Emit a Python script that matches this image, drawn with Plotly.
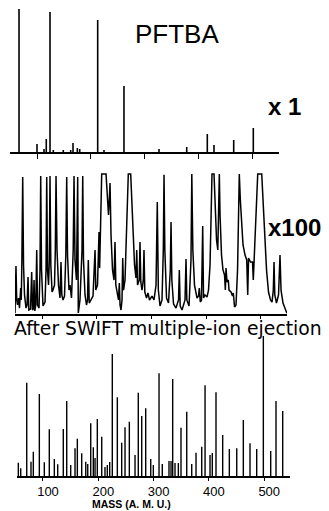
import plotly.graph_objects as go

# The page body adds an 8 px margin; the figure is sized to fill the rest of the window.
PAGE_W, PAGE_H, OFF = 329, 511, 8
W, H = PAGE_W - OFF, PAGE_H - OFF

# ---------------- data ----------------
tick_vals = [100, 200, 300, 400, 500]
tick_text = ["100", "200", "300", "400", "500"]

# Top panel (x 1): PFTBA mass spectrum, relative intensity
top_mass = [66.7, 100, 113, 117.2, 124.1, 130.2, 148.7, 162.4, 166.7, 174.7, 179.1,
            212.4, 224.1, 261.1, 326.0, 377.3, 415.4, 427.8, 464.3, 500.6]
top_int = [100, 5.6, 2.1, 9.1, 97.9, 1.4, 1.4, 1.4, 6.3, 2.8, 2.1,
           92.3, 1.4, 46.2, 2.1, 3.5, 12.6, 4.9, 8.4, 16.8]

# Middle panel (x 100): traced spectrum, clipped at full scale
mid_mass = [50.6, 51.5, 52.4, 53.7, 55.2, 57.0, 58.8, 61.0, 62.1, 63.2, 64.7, 66.2, 68.0, 70.7,
            72.6, 74.4, 75.8, 79.0, 81.1, 82.6, 84.1, 85.4, 86.8, 88.6, 90.3, 91.8, 94.5, 96.3,
            97.6, 99.1, 101.8, 105.5, 107.3, 108.6, 110.0, 111.9, 113.3, 114.6, 116.1, 118.3,
            120.1, 122.8, 124.3, 125.6, 127.4, 130.1, 132.9, 134.7, 136.2, 138.4, 141.1, 143.5,
            145.1, 146.6, 149.3, 151.2, 153.9, 157.0, 158.5, 160.3, 163.0, 165.2, 166.3, 169.4,
            173.1, 174.4, 175.8, 178.6, 181.3, 183.2, 184.6, 186.3, 189.5, 193.2, 196.9, 198.3,
            201.4, 204.2, 205.3, 206.9, 209.1, 217.0, 219.3, 221.5, 223.0, 224.3, 226.1, 228.9,
            231.6, 233.4, 234.9, 238.0, 239.8, 241.3, 242.6, 244.4, 246.2, 247.5, 249.0, 251.7,
            254.1, 255.9, 257.7, 262.1, 263.9, 266.3, 269.1, 271.8, 273.1, 274.6, 277.7, 279.1,
            280.6, 282.8, 285.1, 286.4, 287.9, 291.0, 293.7, 296.5, 301.1, 304.7, 308.4, 310.7,
            312.6, 315.7, 319.3, 321.7, 323.0, 324.5, 327.6, 331.2, 334.5, 335.8, 337.3, 340.4,
            344.9, 349.5, 351.0, 352.6, 355.9, 361.4, 363.2, 364.7, 368.7, 372.3, 373.8, 375.7,
            378.7, 383.3, 386.1, 387.5, 389.3, 391.5, 393.7, 395.2, 397.9, 401.6, 404.3, 407.1,
            408.9, 410.7, 414.4, 416.2, 419.0, 421.3, 423.0, 424.1, 425.4, 428.1, 430.8, 433.6,
            435.1, 436.3, 438.2, 440.5, 441.8, 445.5, 448.2, 449.7, 451.9, 454.6, 457.4, 459.2,
            460.6, 462.5, 464.7, 467.4, 471.1, 474.2, 476.0, 477.5, 481.1, 484.8, 486.2, 487.9,
            490.3, 492.4, 494.3, 501.6, 504.0, 506.7, 510.4, 514.0, 517.7, 520.4, 522.8, 524.1,
            525.5, 528.6, 532.3, 535.0, 536.9, 540.5, 544.2, 547.8]
mid_int = [0, 9.7, 34.1, 9.7, 6.1, 11.1, 3.9, 18.3, 9.7, 38.4, 97.9, 34.8, 13.3, 3.9,
           6.1, 26.2, 2.5, 3.2, 29.8, 2.5, 3.2, 24, 1.8, 6.1, 45.5, 6.1, 3.9, 31.2,
           98.6, 31.2, 5.4, 8.2, 31.2, 97.9, 31.2, 20.4, 38.4, 98.6, 34.8, 15.4,
           16.8, 20.4, 45.5, 98.6, 45.5, 20.4, 11.1, 36.9, 13.3, 9.7, 12.5, 41.9,
           97.9, 41.9, 16.8, 20.4, 11.1, 45.5, 98.6, 38.4, 24, 97.9, 0.4, 9.7,
           45.5, 98.6, 38.4, 13.3, 6.1, 9.7, 38.4, 7.5, 9.7, 12.5, 45.5, 16.8,
           20.4, 58.4, 32.6, 59.9, 100, 100, 81.4, 70.6, 81.4, 93.6, 56.3, 31.2,
           24, 51.3, 20.4, 13.3, 9.7, 21.9, 6.1, 2.5, 9.7, 39.8, 16.8, 24,
           52.7, 81.4, 100, 100, 81.4, 52.7, 34.8, 25.5, 45.5, 20.4, 24, 51.3,
           22.6, 16.8, 24, 45.5, 15.4, 11.1, 14.7, 9.7, 12.5, 9.7, 20.4, 80,
           16.8, 5.4, 9.7, 45.5, 99.5, 45.5, 11.1, 7.5, 31.2, 65.6, 24, 6.8,
           3.9, 9.7, 31.2, 5.4, 2.5, 9.7, 39.1, 9.7, 5.4, 38.4, 100, 45.5,
           20.4, 11.1, 12.5, 18.3, 8.2, 9.7, 62.7, 11.1, 13.3, 11.8, 16.8, 34.8,
           59.9, 100, 100, 81.4, 52.7, 45.5, 74.2, 100, 70.6, 41.9, 31.2, 27.6,
           16.8, 32.6, 22.6, 24, 16.8, 15.4, 12.5, 14.7, 4.7, 6.1, 31.2, 67,
           100, 81.4, 63.5, 49.1, 41.9, 38.4, 13.3, 39.8, 36.9, 36.9, 24, 41.9,
           56.3, 81.4, 100, 100, 81.4, 59.9, 31.2, 15.4, 9.7, 8.2, 16.8, 36.9,
           13.3, 7.5, 13.3, 41.9, 16.8, 7.5, 3.2, 0]

# Bottom panel: after SWIFT multiple-ion ejection
bot_mass = [55.4, 59.7, 70.6, 78.3, 82.5, 93.4, 102.4, 111.4, 120.5, 126.6, 136.7, 142.9,
            150.1, 157.9, 162.1, 170.0, 177.3, 180.9, 186.3, 191.0, 194.1, 198.2, 206.2,
            212.1, 216.3, 220.6, 225.3, 234.4, 242.3, 248.3, 256.1, 266.4, 272.3, 278.5,
            285.7, 294.8, 299.5, 309.8, 315.7, 327.8, 331.5, 334.5, 338.7, 344.7, 349.5,
            359.9, 368.9, 376.7, 387.0, 393.0, 402.0, 406.1, 412.8, 424.9, 436.9, 450.3,
            462.2, 474.3, 486.4, 498.4, 511.7, 521.3, 533.4]
bot_int = [9.5, 5.5, 66.6, 10.2, 17.4, 58.6, 9.8, 33.4, 12.1, 8.4, 33.6, 53.6,
           7.9, 19.8, 26.6, 16.2, 10.2, 8.6, 37.6, 20.5, 12.9, 40.7, 28.1,
           6.4, 7.9, 10, 87.1, 56.2, 23.8, 34.8, 38.8, 15, 59.5, 42.9,
           48.4, 12.1, 7.9, 73.4, 8.6, 10.7, 10.7, 69.3, 9.3, 9.3, 34.5,
           45.9, 8.6, 16.6, 20.9, 64.8, 15, 16.4, 59.8, 29.3, 19.3, 19.8,
           40, 23.4, 19.3, 100, 17.9, 53.6, 46.4]

assert len(mid_mass) == len(mid_int), (len(mid_mass), len(mid_int))
assert len(bot_mass) == len(bot_int)
assert len(top_mass) == len(top_int)


# ---------------- helpers ----------------
def sticks(ms, hs):
    xs, ys = [], []
    for m, h in zip(ms, hs):
        xs += [m, m, None]
        ys += [0, h, None]
    return xs, ys


def fx(p):
    """page pixel x -> paper fraction"""
    return (p - OFF) / W


def fy(p):
    """page pixel y (from top) -> paper fraction"""
    return 1 - (p - OFF) / H


fig = go.Figure()

tx, ty = sticks(top_mass, top_int)
fig.add_trace(go.Scatter(x=tx, y=ty, mode="lines", line=dict(color="black", width=1.6),
                         xaxis="x", yaxis="y", hoverinfo="skip", showlegend=False))
fig.add_trace(go.Scatter(x=mid_mass, y=mid_int, mode="lines", line=dict(color="black", width=1.5),
                         xaxis="x2", yaxis="y2", hoverinfo="skip", showlegend=False))
bx, by = sticks(bot_mass, bot_int)
fig.add_trace(go.Scatter(x=bx, y=by, mode="lines", line=dict(color="black", width=1.4),
                         xaxis="x3", yaxis="y3", hoverinfo="skip", showlegend=False))

common_x = dict(showline=True, linecolor="black", linewidth=1.5, showgrid=False,
                zeroline=False, ticks="outside", tickcolor="black", tickwidth=1.2,
                tickvals=tick_vals, ticktext=tick_text)
common_y = dict(visible=False, showgrid=False, zeroline=False, fixedrange=True)

fig.update_layout(
    width=W, height=H,
    margin=dict(l=0, r=0, t=0, b=0),
    paper_bgcolor="white", plot_bgcolor="white",
    showlegend=False,
    xaxis=dict(**common_x, domain=[fx(10), fx(279)], range=[50, 548.2], anchor="y",
               ticklen=5, showticklabels=False),
    yaxis=dict(**common_y, domain=[fy(152), fy(9)], range=[0, 100], anchor="x"),
    xaxis2=dict(**common_x, domain=[fx(15), fx(287)], range=[50.6, 547.8], anchor="y2",
                ticklen=4, showticklabels=False),
    yaxis2=dict(**common_y, domain=[fy(313.5), fy(172.6)], range=[0, 101], anchor="x2"),
    xaxis3=dict(**common_x, domain=[fx(17), fx(290)], range=[53.0, 546.6], anchor="y3",
                ticklen=3, showticklabels=True, ticklabelshift=5, ticklabelstandoff=0,
                tickfont=dict(family="Liberation Sans, Arial", size=13, color="black")),
    yaxis3=dict(**common_y, domain=[fy(476), fy(334.6)], range=[0, 101], anchor="x3"),
)

ann = [
    dict(text="PFTBA", x=fx(176.5), y=fy(33.5), xanchor="center", yanchor="middle",
         font=dict(family="Liberation Sans, Arial", size=26, color="black")),
    dict(text="<b>x 1</b>", x=fx(266), y=fy(106), xanchor="left", yanchor="middle",
         font=dict(family="Liberation Sans, Arial", size=24, color="black")),
    dict(text="<b>x100</b>", x=fx(266), y=fy(227), xanchor="left", yanchor="middle",
         font=dict(family="Liberation Sans, Arial", size=24, color="black")),
    dict(text="After SWIFT multiple-ion ejection", x=fx(12), y=fy(328), xanchor="left",
         yanchor="middle", font=dict(family="DejaVu Sans", size=18.8, color="black")),
    dict(text="<b>MASS (A. M. U.)</b>", x=fx(131), y=fy(503.5), xanchor="center",
         yanchor="middle", font=dict(family="Liberation Sans, Arial", size=10.5, color="black")),
]
for a in ann:
    a.update(xref="paper", yref="paper", showarrow=False)
fig.update_layout(annotations=ann)

fig.write_html("out.html")
